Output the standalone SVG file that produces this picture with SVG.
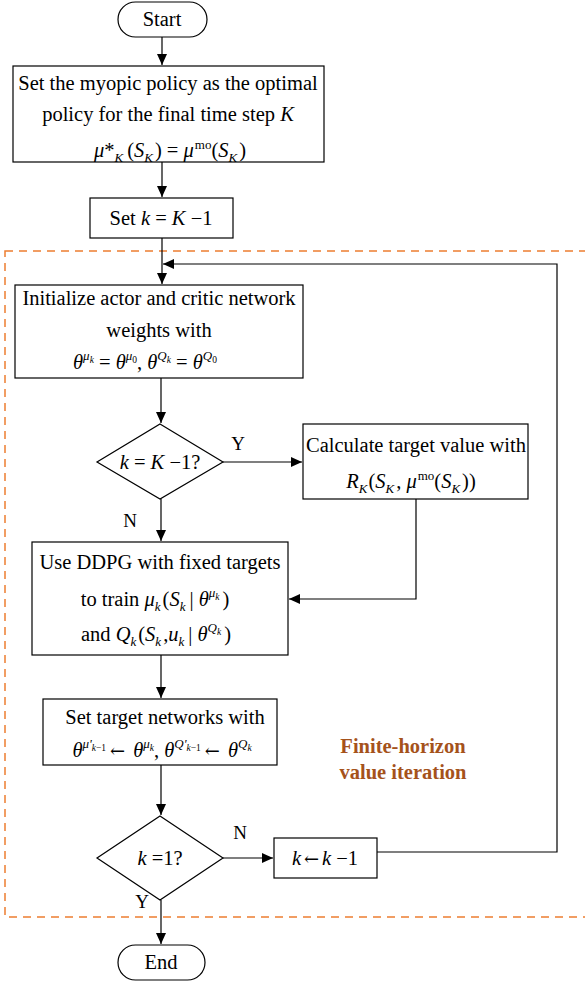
<svg xmlns="http://www.w3.org/2000/svg" width="585" height="981" viewBox="0 0 585 981">
<style>
.t{font-family:'Liberation Serif','Times New Roman',serif;font-size:20.5px;fill:#000}
.i{font-style:italic}
.s{font-size:13px}
.ss{font-size:9.5px}
.ar{font-family:'DejaVu Serif','Liberation Serif',serif;font-size:18px}
.lbl{font-family:'Liberation Serif','Times New Roman',serif;font-size:19px;fill:#000}
.box{fill:#fff;stroke:#000;stroke-width:1.2}
.conn path{fill:none;stroke:#000;stroke-width:1.2;marker-end:url(#arr)}
.frame{fill:none;stroke:#ED7D31;stroke-width:1.5;stroke-dasharray:8 6}
.note{font-family:'Liberation Serif','Times New Roman',serif;font-size:20.5px;font-weight:bold;fill:#A5521B}
</style>
<defs>
<marker id="arr" markerUnits="userSpaceOnUse" markerWidth="12" markerHeight="10" refX="11" refY="5" orient="auto">
<path d="M0,0 L11,5 L0,10 z" fill="#000"/>
</marker>
</defs>
<rect width="585" height="981" fill="#fff"/>
<rect class="frame" x="5" y="251" width="590" height="666"/>
<g class="conn">
<path d="M162,37 V65"/>
<path d="M162,162 V197"/>
<path d="M162,238 V284"/>
<path d="M377,852 H557 V264 H163"/>
<path d="M161,378 V423"/>
<path d="M223,462 H302"/>
<path d="M416,499 V599 H289"/>
<path d="M161,499 V541"/>
<path d="M161,655 V698"/>
<path d="M161,765 V815"/>
<path d="M223,858 H273"/>
<path d="M161,900 V944"/>
</g>
<g id="start">
<rect class="box" x="118" y="2" width="89" height="35" rx="17.5"/>
<text class="t" x="162" y="26" text-anchor="middle">Start</text>
</g>
<g id="myopic">
<rect class="box" x="13" y="66" width="311" height="96"/>
<text class="t" x="168" y="90" text-anchor="middle">Set the myopic policy as the optimal</text>
<text class="t" x="168" y="121" text-anchor="middle">policy for the final time step <tspan class="i">K</tspan></text>
<text class="t" x="170" y="157" text-anchor="middle"><tspan class="i">μ</tspan>*<tspan class="i s" dy="5">K</tspan><tspan dy="-5" dx="4">(</tspan><tspan class="i">S</tspan><tspan class="i s" dy="5">K</tspan><tspan dy="-5" dx="2">) = </tspan><tspan class="i">μ</tspan><tspan class="s" dy="-8" dx="1">mo</tspan><tspan dy="8">(</tspan><tspan class="i">S</tspan><tspan class="i s" dy="5">K</tspan><tspan dy="-5" dx="2">)</tspan></text>
</g>
<g id="setk">
<rect class="box" x="90" y="198" width="143" height="40"/>
<text class="t" x="161" y="225" text-anchor="middle">Set <tspan class="i">k</tspan> = <tspan class="i">K</tspan> −1</text>
</g>
<g id="init">
<rect class="box" x="15" y="285" width="288" height="93"/>
<text class="t" x="159" y="305" text-anchor="middle">Initialize actor and critic network</text>
<text class="t" x="159" y="337" text-anchor="middle">weights with</text>
<text class="t" x="145" y="369" text-anchor="middle"><tspan class="i">θ</tspan><tspan class="i s" dy="-9">μ</tspan><tspan class="i ss" dy="3">k</tspan><tspan dy="6"> = </tspan><tspan class="i">θ</tspan><tspan class="i s" dy="-9">μ</tspan><tspan class="ss" dy="3">0</tspan><tspan dy="6">, </tspan><tspan class="i">θ</tspan><tspan class="i s" dy="-9">Q</tspan><tspan class="i ss" dy="3">k</tspan><tspan dy="6"> = </tspan><tspan class="i">θ</tspan><tspan class="i s" dy="-9">Q</tspan><tspan class="ss" dy="3">0</tspan></text>
</g>
<g id="dec1">
<polygon class="box" points="160,424 223,462 160,499 97,462"/>
<text class="t" x="160" y="469" text-anchor="middle"><tspan class="i">k</tspan> = <tspan class="i">K</tspan> −1?</text>
<text class="lbl" x="238" y="450" text-anchor="middle">Y</text>
<text class="lbl" x="130" y="527" text-anchor="middle">N</text>
</g>
<g id="calc">
<rect class="box" x="303" y="424" width="225" height="75"/>
<text class="t" x="416" y="452" text-anchor="middle">Calculate target value with</text>
<text class="t" x="411" y="488" text-anchor="middle"><tspan class="i">R</tspan><tspan class="i s" dy="5">K</tspan><tspan dy="-5" dx="1">(</tspan><tspan class="i">S</tspan><tspan class="i s" dy="5">K</tspan><tspan dy="-5" dx="2">, </tspan><tspan class="i">μ</tspan><tspan class="s" dy="-8" dx="1">mo</tspan><tspan dy="8">(</tspan><tspan class="i">S</tspan><tspan class="i s" dy="5">K</tspan><tspan dy="-5" dx="2">))</tspan></text>
</g>
<g id="ddpg">
<rect class="box" x="32" y="542" width="256" height="113"/>
<text class="t" x="160" y="569" text-anchor="middle">Use DDPG with fixed targets</text>
<text class="t" x="155" y="606" text-anchor="middle">to train <tspan class="i">μ</tspan><tspan class="i s" dy="5">k</tspan><tspan dy="-5" dx="2">(</tspan><tspan class="i">S</tspan><tspan class="i s" dy="5">k</tspan><tspan dy="-5" dx="4">| </tspan><tspan class="i">θ</tspan><tspan class="i s" dy="-9">μ</tspan><tspan class="i ss" dy="3">k</tspan><tspan dy="6" dx="3">)</tspan></text>
<text class="t" x="156" y="641" text-anchor="middle">and <tspan class="i">Q</tspan><tspan class="i s" dy="5">k</tspan><tspan dy="-5" dx="2">(</tspan><tspan class="i">S</tspan><tspan class="i s" dy="5">k</tspan><tspan dy="-5" dx="2">,</tspan><tspan class="i">u</tspan><tspan class="i s" dy="5">k</tspan><tspan dy="-5" dx="4">| </tspan><tspan class="i">θ</tspan><tspan class="i s" dy="-9">Q</tspan><tspan class="i ss" dy="3">k</tspan><tspan dy="6" dx="3">)</tspan></text>
</g>
<g id="settarget">
<rect class="box" x="43" y="699" width="234" height="66"/>
<text class="t" x="165" y="724" text-anchor="middle">Set target networks with</text>
<text class="t" x="162" y="757" text-anchor="middle"><tspan class="i">θ</tspan><tspan class="i s" dy="-9">μ'</tspan><tspan class="i ss" dy="3">k</tspan><tspan class="ss">−1</tspan><tspan class="ar" dy="6" dx="4">←</tspan><tspan class="i" dx="8">θ</tspan><tspan class="i s" dy="-9">μ</tspan><tspan class="i ss" dy="3">k</tspan><tspan dy="6">, </tspan><tspan class="i">θ</tspan><tspan class="i s" dy="-9">Q'</tspan><tspan class="i ss" dy="3">k</tspan><tspan class="ss">−1</tspan><tspan class="ar" dy="6" dx="4">←</tspan><tspan class="i" dx="8">θ</tspan><tspan class="i s" dy="-9">Q</tspan><tspan class="i ss" dy="3">k</tspan></text>
</g>
<g id="note">
<text class="note" x="403" y="753" text-anchor="middle">Finite-horizon</text>
<text class="note" x="403" y="779" text-anchor="middle">value iteration</text>
</g>
<g id="dec2">
<polygon class="box" points="160,816 223,858 160,900 97,858"/>
<text class="t" x="160" y="865" text-anchor="middle"><tspan class="i">k</tspan> =1?</text>
<text class="lbl" x="240" y="839" text-anchor="middle">N</text>
<text class="lbl" x="142" y="908" text-anchor="middle">Y</text>
</g>
<g id="dec">
<rect class="box" x="274" y="838" width="103" height="40"/>
<text class="t" x="325" y="865" text-anchor="middle"><tspan class="i">k</tspan><tspan class="ar" dx="3">←</tspan><tspan class="i" dx="3">k</tspan> −1</text>
</g>
<g id="end">
<rect class="box" x="118" y="945" width="87" height="35" rx="17.5"/>
<text class="t" x="161" y="969" text-anchor="middle">End</text>
</g>
</svg>
